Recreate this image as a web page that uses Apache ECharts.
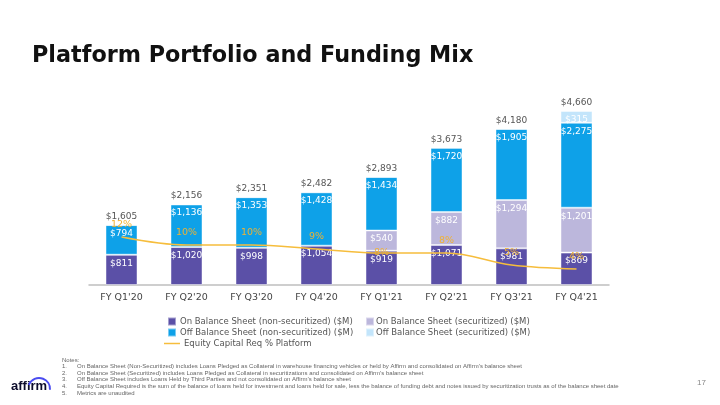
<!DOCTYPE html>
<html>
<head>
<meta charset="utf-8">
<script src="https://cdn.jsdelivr.net/npm/echarts@6/dist/echarts.min.js"></script>
<style>
html,body{margin:0;padding:0;background:#fff;}
#chart{width:720px;height:405px;}
</style>
</head>
<body>
<div id="chart"></div>
<script>
const categories = ["FY Q1'20","FY Q2'20","FY Q3'20","FY Q4'20","FY Q1'21","FY Q2'21","FY Q3'21","FY Q4'21"];
const onBalanceNonSec = [811, 1020, 998, 1054, 919, 1071, 981, 869];
const onBalanceSec    = [0, 0, 0, 0, 540, 882, 1294, 1201];
const offBalanceNonSec= [794, 1136, 1353, 1428, 1434, 1720, 1905, 2275];
const offBalanceSec   = [0, 0, 0, 0, 0, 0, 0, 315];
const totals          = [1605, 2156, 2351, 2482, 2893, 3673, 4180, 4660];
const equityPct       = [12, 10, 10, 9, 8, 8, 5, 4];

const seriesNames = [
  'On Balance Sheet (non-securitized) ($M)',
  'On Balance Sheet (securitized) ($M)',
  'Off Balance Sheet (non-securitized) ($M)',
  'Off Balance Sheet (securitized) ($M)',
  'Equity Capital Req % Platform'
];

const FONT = 'DejaVu Sans';
const fmt = v => '$' + v.toLocaleString('en-US');

function barSeries(name, data, color) {
  return {
    name: name, type: 'bar', stack: 'total', barWidth: 32, yAxisIndex: 0,
    itemStyle: { color: color, borderColor: 'rgba(255,255,255,0.45)', borderWidth: 1 },
    label: {
      show: true, position: 'insideTop', distance: 4,
      color: '#fff', fontFamily: FONT, fontSize: 9,
      width: 35, overflow: 'truncate', ellipsis: '',
      formatter: p => p.value > 0 ? fmt(p.value) : ''
    },
    data: data
  };
}

const chart = echarts.init(document.getElementById('chart'), null, { renderer: 'canvas' });

const lineData = equityPct.map((v, i) => {
  if (i === 4) return { value: v, label: { position: 'inside', offset: [0, 1] } };
  return v;
});

const notes = [
  'Notes:',
  '1.', 'On Balance Sheet (Non-Securitized) includes Loans Pledged as Collateral in warehouse financing vehicles or held by Affirm and consolidated on Affirm\u2019s balance sheet',
  '2.', 'On Balance Sheet (Securitized) includes Loans Pledged as Collateral in securitizations and consolidated on Affirm\u2019s balance sheet',
  '3.', 'Off Balance Sheet includes Loans Held by Third Parties and not consolidated on Affirm\u2019s balance sheet',
  '4.', 'Equity Capital Required is the sum of the balance of loans held for investment and loans held for sale, less the balance of funding debt and notes issued by securitization trusts as of the balance sheet date',
  '5.', 'Metrics are unaudited'
];
const noteGraphics = [{ type: 'text', left: 62, top: 357, style: { text: notes[0], fontSize: 6, fill: '#666', fontFamily: 'Liberation Sans' } }];
for (let k = 0; k < 5; k++) {
  const y = 363.6 + k * 6.6;
  noteGraphics.push({ type: 'text', left: 62, top: y, style: { text: notes[1 + k * 2], fontSize: 6, fill: '#666', fontFamily: 'Liberation Sans' } });
  noteGraphics.push({ type: 'text', left: 77, top: y, style: { text: notes[2 + k * 2], fontSize: 6, fill: '#666', fontFamily: 'Liberation Sans' } });
}

chart.setOption({
  animation: false,
  backgroundColor: '#fff',
  textStyle: { fontFamily: FONT },
  grid: { left: 89, right: 111, top: 98.3, bottom: 120 },
  xAxis: {
    type: 'category', data: categories,
    axisLine: { lineStyle: { color: '#bfbfbf', width: 1.5 } },
    axisTick: { show: false },
    axisLabel: { color: '#444', fontSize: 9.5, fontFamily: FONT, margin: 8 }
  },
  yAxis: [
    { type: 'value', min: 0, max: 5000, show: false, splitLine: { show: false } },
    { type: 'value', min: 0, max: 46.7, show: false, splitLine: { show: false } }
  ],
  legend: [
    {
      data: [seriesNames[0], seriesNames[2]], orient: 'vertical', left: 167, top: 316,
      itemWidth: 8, itemHeight: 8, itemGap: 0, icon: 'rect', padding: 0,
      textStyle: { color: '#555', fontSize: 8.5, fontFamily: FONT, padding: [0, 0, 0, -1], lineHeight: 11 }
    },
    {
      data: [seriesNames[1], seriesNames[3]], orient: 'vertical', left: 365, top: 316,
      itemWidth: 8, itemHeight: 8, itemGap: 0, icon: 'rect', padding: 0,
      textStyle: { color: '#555', fontSize: 8.5, fontFamily: FONT, padding: [0, 0, 0, -3], lineHeight: 11 }
    },
    {
      data: [{ name: seriesNames[4], icon: 'path://M0,0 L16,0 L16,1.5 L0,1.5 Z' }], left: 164, top: 338, padding: 0,
      itemWidth: 16, itemHeight: 1.5,
      textStyle: { color: '#555', fontSize: 8.5, fontFamily: FONT, padding: [0, 0, 0, -1], lineHeight: 11 }
    }
  ],
  series: [
    barSeries(seriesNames[0], onBalanceNonSec, '#5b50a7'),
    barSeries(seriesNames[1], onBalanceSec, '#bcb7dc'),
    barSeries(seriesNames[2], offBalanceNonSec, '#0ea1e8'),
    barSeries(seriesNames[3], offBalanceSec, '#c3e5fb'),
    {
      name: 'Total', type: 'bar', stack: 'total', barWidth: 32, yAxisIndex: 0,
      data: totals.map(() => 0),
      itemStyle: { color: 'transparent' },
      label: {
        show: true, position: 'top', distance: 4,
        color: '#555', fontFamily: FONT, fontSize: 9,
        formatter: p => fmt(totals[p.dataIndex])
      },
      silent: true
    },
    {
      name: seriesNames[4], type: 'line', yAxisIndex: 1,
      data: lineData, smooth: 0.35, symbol: 'circle', symbolSize: 0.1, showSymbol: true,
      lineStyle: { color: '#f6bd3c', width: 1.5 },
      itemStyle: { color: '#f6bd3c' },
      label: {
        show: true, position: 'top', distance: 7,
        color: '#f0b232', fontFamily: FONT, fontSize: 9.5,
        formatter: p => p.value + '%'
      },
      labelLayout: { hideOverlap: false },
      z: 5
    }
  ],
  graphic: [
    {
      type: 'text', left: 32, top: 45,
      style: { text: 'Platform Portfolio and Funding Mix', fontSize: 22.3, fontWeight: 'bold', fill: '#111', fontFamily: 'DejaVu Sans' }
    },
    {
      type: 'text', left: 697, top: 379,
      style: { text: '17', fontSize: 8, fill: '#888', fontFamily: 'Liberation Sans' }
    },
    {
      type: 'text', left: 11, top: 380,
      style: { text: 'affirm', fontSize: 13, fontWeight: 'bold', fill: '#0b0b2a', fontFamily: 'Liberation Sans' }
    },
    {
      type: 'arc',
      shape: { cx: 39, cy: 389, r: 11, startAngle: Math.PI * 1.12, endAngle: Math.PI * 2.02, clockwise: true },
      style: { stroke: '#4a4cf0', lineWidth: 2, fill: null }
    }
  ].concat(noteGraphics)
});
</script>
</body>
</html>
